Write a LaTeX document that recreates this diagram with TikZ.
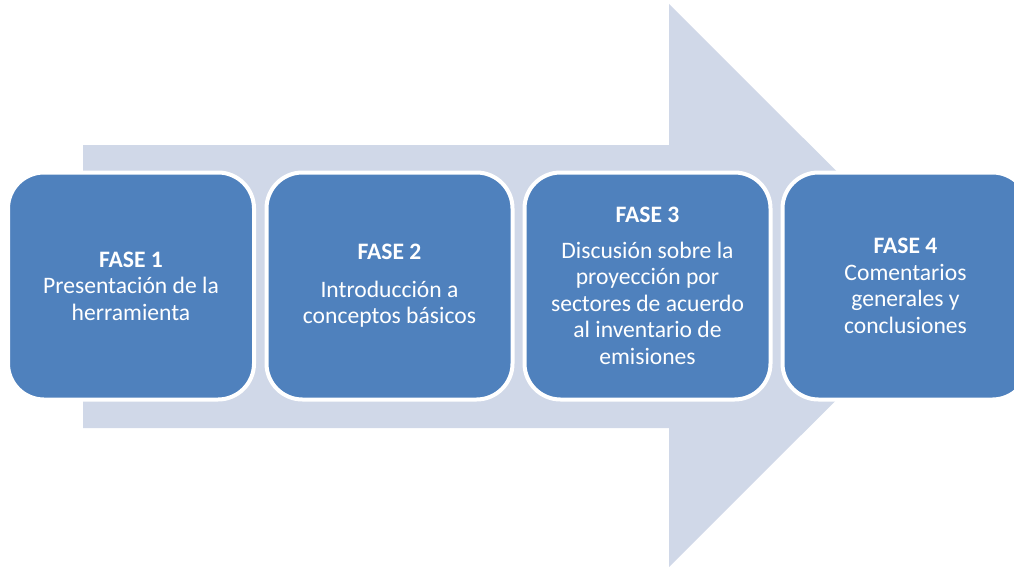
\documentclass[tikz,border=0pt]{standalone}
\usepackage{fontspec}
\setmainfont{Carlito}
\definecolor{boxblue}{HTML}{4F81BD}
\definecolor{arrowgray}{HTML}{D0D8E8}
\tikzset{
  phasebox/.style={fill=boxblue, draw=white, line width=4pt, rounded corners=36pt,
    minimum width=246pt, minimum height=227pt, text=white, align=center,
    font=\fontsize{23.6}{26.5}\selectfont, inner sep=0pt},
  bigarrow/.style={fill=arrowgray}
}
\begin{document}
\begin{tikzpicture}[x=1pt,y=-1pt]
\useasboundingbox (0,0) rectangle (1014,567);
\clip (0,0) rectangle (1014,567);
\fill[bigarrow] (83,145) -- (669,145) -- (669,4) -- (951,285.5) -- (669,567) -- (669,428) -- (83,428) -- cycle;
\node[phasebox] (f1) at (131,286) {\textbf{FASE 1}\\Presentación de la\\herramienta};
\node[phasebox] (f2) at (389.5,286) {\textbf{FASE 2}\\[11pt]Introducción a\\conceptos básicos};
\node[phasebox] (f3) at (647.5,286) {\textbf{FASE 3}\\[9pt]Discusión sobre la\\proyección por\\sectores de acuerdo\\al inventario de\\emisiones};
\node[phasebox] (f4) at (905.5,286) {\textbf{FASE 4}\\Comentarios\\generales y\\conclusiones};
\end{tikzpicture}
\end{document}
